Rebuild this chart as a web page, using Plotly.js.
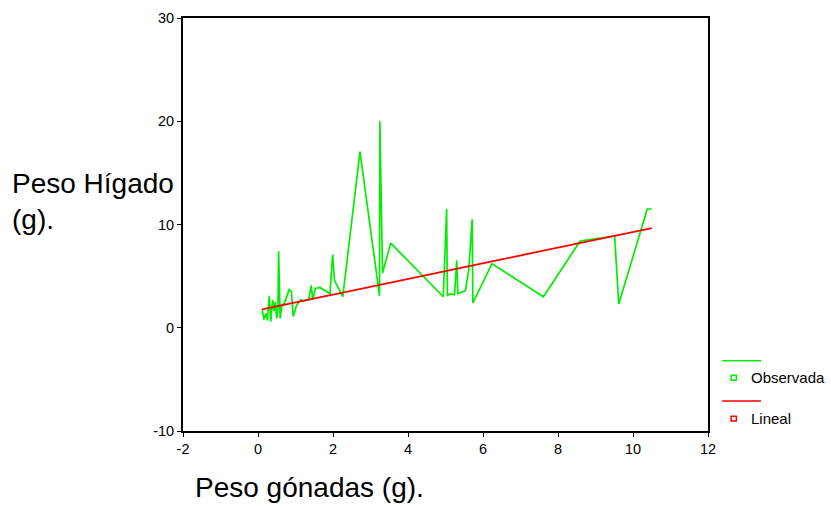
<!DOCTYPE html>
<html>
<head>
<meta charset="utf-8">
<script src="https://cdn.plot.ly/plotly-3.0.1.min.js"></script>
<style>html,body{margin:0;padding:0;background:#fff;}#chart{width:831px;height:508px;}</style>
</head>
<body>
<div id="chart"></div>
<script>
// Peso gónadas (g) — observed x values (sorted)
var pesoGonadas = [0.11,0.16,0.21,0.25,0.30,0.34,0.39,0.43,0.46,0.50,0.53,0.55,0.59,0.64,0.71,0.76,0.83,0.89,0.94,1.03,1.14,1.21,1.35,1.42,1.46,1.53,1.65,1.92,1.99,2.04,2.17,2.26,2.72,3.24,3.25,3.32,3.54,4.94,5.03,5.05,5.12,5.24,5.30,5.33,5.53,5.62,5.71,5.73,6.24,7.61,8.59,9.51,9.62,10.38,10.50];
// Peso Hígado (g) — observed
var observada = [1.8,0.8,1.4,0.7,3.1,0.6,2.7,1.6,2.5,0.9,1.7,7.4,0.9,2.2,2.4,2.9,3.7,3.5,1.1,2.2,2.7,2.6,2.7,4.1,2.7,3.8,3.9,3.3,7.1,4.6,3.7,3.0,17.05,3.1,20.0,5.3,8.2,3.0,11.5,3.1,3.3,3.2,6.5,3.3,3.6,5.6,10.5,2.4,6.2,3.0,8.4,8.9,2.3,11.5,11.5];
// Lineal — fitted values
var lineal = [1.78,1.82,1.86,1.89,1.93,1.96,2.00,2.03,2.05,2.08,2.10,2.12,2.15,2.18,2.24,2.27,2.33,2.37,2.41,2.48,2.56,2.62,2.72,2.77,2.80,2.86,2.95,3.15,3.21,3.24,3.34,3.41,3.76,4.15,4.16,4.21,4.38,5.44,5.51,5.53,5.58,5.67,5.71,5.74,5.89,5.95,6.02,6.04,6.43,7.46,8.21,8.90,8.98,9.56,9.65];
var xTicks = [-2,0,2,4,6,8,10,12];
var yTicks = [-10,0,10,20,30];

var traces = [
  {x: pesoGonadas, y: observada, type: 'scatter', mode: 'lines', name: 'Observada',
   line: {color: '#00ee00', width: 1.7}, showlegend: false},
  {x: pesoGonadas, y: lineal, type: 'scatter', mode: 'lines', name: 'Lineal',
   line: {color: '#ff0000', width: 1.8}, showlegend: false}
];

var FF = 'Liberation Sans, Arial, sans-serif';
var tickFont = {family: FF, size: 14.5, color: '#000'};
var titleFont = {family: FF, size: 28, color: '#000'};

var layout = {
  width: 831, height: 508,
  margin: {l: 183, r: 123, t: 18, b: 77, pad: 0},
  paper_bgcolor: '#fff', plot_bgcolor: '#fff',
  showlegend: false,
  xaxis: {range: [-2, 12], tickvals: xTicks, ticktext: xTicks.map(String),
    showgrid: false, zeroline: false, showline: true, mirror: true,
    linecolor: '#000', linewidth: 2, ticks: 'outside', ticklen: 4, tickwidth: 1,
    tickcolor: '#000', tickfont: tickFont},
  yaxis: {range: [-10, 30], tickvals: yTicks, ticktext: yTicks.map(String),
    showgrid: false, zeroline: false, showline: true, mirror: true,
    linecolor: '#000', linewidth: 2, ticks: 'outside', ticklen: 4, tickwidth: 1,
    tickcolor: '#000', tickfont: tickFont},
  shapes: [
    {type: 'line', xref: 'paper', yref: 'paper', x0: 1.027, x1: 1.101, y0: 0.170, y1: 0.170,
     line: {color: '#00ee00', width: 1.5}},
    {type: 'rect', xref: 'paper', yref: 'paper', x0: 1.044, x1: 1.054, y0: 0.123, y1: 0.135,
     line: {color: '#00ee00', width: 1.5}, fillcolor: 'rgba(0,0,0,0)'},
    {type: 'line', xref: 'paper', yref: 'paper', x0: 1.027, x1: 1.101, y0: 0.0726, y1: 0.0726,
     line: {color: '#ff0000', width: 1.5}},
    {type: 'rect', xref: 'paper', yref: 'paper', x0: 1.044, x1: 1.054, y0: 0.024, y1: 0.036,
     line: {color: '#ff0000', width: 1.5}, fillcolor: 'rgba(0,0,0,0)'}
  ],
  annotations: [
    {text: 'Observada', xref: 'paper', yref: 'paper', x: 1.078, y: 0.129, xanchor: 'left', yanchor: 'middle',
     showarrow: false, font: {family: FF, size: 15, color: '#000'}},
    {text: 'Lineal', xref: 'paper', yref: 'paper', x: 1.078, y: 0.030, xanchor: 'left', yanchor: 'middle',
     showarrow: false, font: {family: FF, size: 15, color: '#000'}},
    {text: 'Peso Hígado<br>(g).', xref: 'paper', yref: 'paper', x: -0.330, y: 0.556, xanchor: 'left', yanchor: 'middle',
     align: 'left', showarrow: false, font: titleFont},
    {text: 'Peso gónadas (g).', xref: 'paper', yref: 'paper', x: 0.240, y: -0.138, xanchor: 'center', yanchor: 'middle',
     showarrow: false, font: titleFont}
  ]
};

Plotly.newPlot('chart', traces, layout, {staticPlot: true, displayModeBar: false});
</script>
</body>
</html>
